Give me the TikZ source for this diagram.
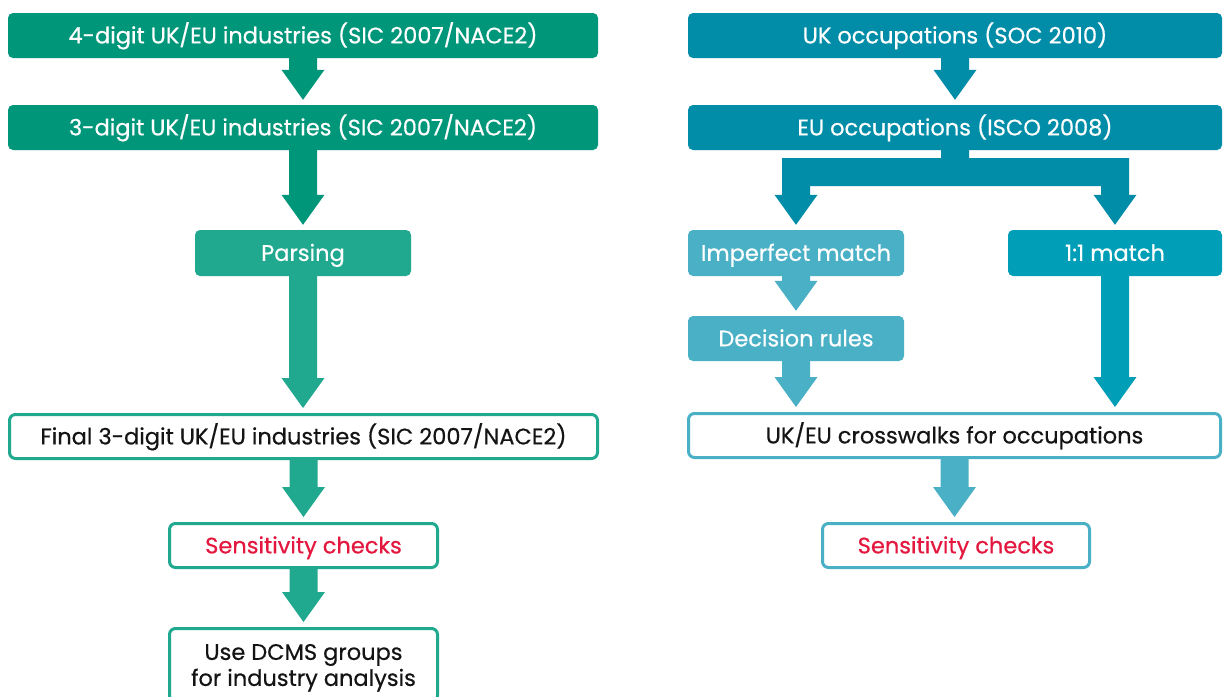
\documentclass[tikz,border=0pt]{standalone}
\usepackage{fontspec}
\setmainfont{Poppins}[FakeBold=0.5]
\usetikzlibrary{calc}
\definecolor{dgreen}{HTML}{00967A}
\definecolor{pgreen}{HTML}{21A98F}
\definecolor{dteal}{HTML}{018DA8}
\definecolor{mteal}{HTML}{009FB7}
\definecolor{lblue}{HTML}{4AB0C6}
\definecolor{redtxt}{HTML}{E4173E}
\definecolor{blacktxt}{HTML}{141414}
\tikzset{
  lbl/.style={font=\fontsize{22.5}{26}\selectfont, inner sep=0pt, align=center, text height=15.8pt, text depth=0pt},
  fbox/.style={lbl, rounded corners=5pt, text=white},
  wbox/.style={lbl, rounded corners=6pt, draw, line width=3pt, fill=white, text=blacktxt},
}
\newcommand\barrow[3]{%
  \fill[#1] let \p1=(#2), \p2=(#3) in
    ({\x1-14pt},\y1) -- ({\x1-14pt},{\y2+35pt}) -- ({\x1-21.5pt},{\y2+35pt}) --
    (\x1,{\y2+5pt}) -- ({\x1+21.5pt},{\y2+35pt}) -- ({\x1+14pt},{\y2+35pt}) --
    ({\x1+14pt},\y1) -- cycle;}
\begin{document}
\begin{tikzpicture}[x=1pt,y=-1pt]
\useasboundingbox[fill=white] (0,0) rectangle (1223,696);
% left column
\node[fbox, fill=dgreen, minimum width=590pt, minimum height=45pt] (l1) at (303,35.5) {4-digit UK/EU industries (SIC 2007/NACE2)};
\node[fbox, fill=dgreen, minimum width=590pt, minimum height=45pt] (l2) at (303,127.5) {3-digit UK/EU industries (SIC 2007/NACE2)};
\node[fbox, fill=pgreen, minimum width=216pt, minimum height=46pt] (parse) at (303,253) {Parsing};
\node[wbox, draw=pgreen, minimum width=588pt, minimum height=44pt] (final) at (303.5,436.5) {Final 3-digit UK/EU industries (SIC 2007/NACE2)};
\node[wbox, draw=pgreen, text=redtxt, minimum width=268pt, minimum height=44pt] (sens1) at (303.5,545.5) {Sensitivity checks};
\node[wbox, draw=pgreen, text height=41.8pt, minimum width=268pt, minimum height=73pt] (dcms) at (303.5,665) {Use DCMS groups\\for industry analysis};
% right column
\node[fbox, fill=dteal, minimum width=534pt, minimum height=45pt] (r1) at (955,35.5) {UK occupations (SOC 2010)};
\node[fbox, fill=dteal, minimum width=534pt, minimum height=45pt] (r2) at (955,127.5) {EU occupations (ISCO 2008)};
\node[fbox, fill=lblue, minimum width=216pt, minimum height=46pt] (imp) at (796,253) {Imperfect match};
\node[fbox, fill=mteal, minimum width=214pt, minimum height=46pt] (one) at (1115,253) {1:1 match};
\node[fbox, fill=lblue, minimum width=216pt, minimum height=45pt] (dec) at (796,338.5) {Decision rules};
\node[wbox, draw=lblue, minimum width=532pt, minimum height=44pt] (cw) at (954.5,435.5) {UK/EU crosswalks for occupations};
\node[wbox, draw=lblue, text=redtxt, minimum width=267pt, minimum height=44pt] (sens2) at (956,545.5) {Sensitivity checks};
% arrows left
\barrow{dgreen}{l1.south}{l2.north}
\barrow{dgreen}{l2.south}{parse.north}
\barrow{pgreen}{parse.south}{final.north}
\barrow{pgreen}{final.south}{sens1.north}
\barrow{pgreen}{sens1.south}{dcms.north}
% arrows right
\barrow{dteal}{r1.south}{r2.north}
\fill[dteal] let \p1=(r2.south), \p2=(imp.north), \p3=(one.north) in
 ({\x1-14pt},\y1) -- ({\x1-14pt},{\y1-8pt}) -- ({\x2-14pt},{\y1-8pt}) -- ({\x2-14pt},{\y2+35pt}) --
 ({\x2-21.5pt},{\y2+35pt}) -- (\x2,{\y2+5pt}) -- ({\x2+21.5pt},{\y2+35pt}) -- ({\x2+14pt},{\y2+35pt}) --
 ({\x2+14pt},{\y1-36pt}) -- ({\x3-14pt},{\y1-36pt}) -- ({\x3-14pt},{\y2+35pt}) --
 ({\x3-21.5pt},{\y2+35pt}) -- (\x3,{\y2+5pt}) -- ({\x3+21.5pt},{\y2+35pt}) -- ({\x3+14pt},{\y2+35pt}) --
 ({\x3+14pt},{\y1-8pt}) -- ({\x1+14pt},{\y1-8pt}) -- ({\x1+14pt},\y1) -- cycle;
\barrow{lblue}{imp.south}{dec.north}
\barrow{lblue}{dec.south}{cw.north}
\barrow{mteal}{one.south}{cw.north}
\barrow{lblue}{cw.south}{sens2.north}
\end{tikzpicture}
\end{document}
